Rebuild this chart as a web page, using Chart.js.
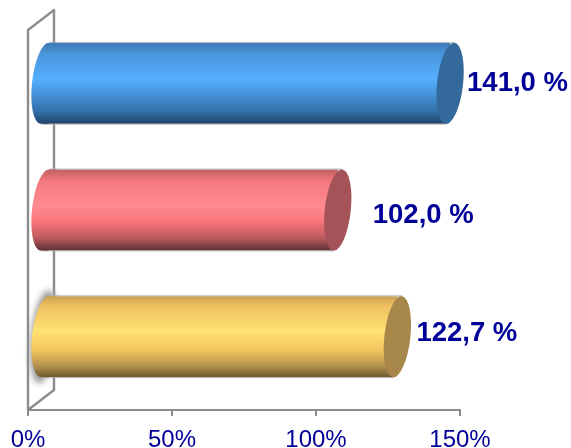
<!DOCTYPE html>
<html><head><meta charset="utf-8">
<style>html,body{margin:0;padding:0;background:#fff}canvas{display:block}</style>
<script src="https://cdn.jsdelivr.net/npm/chart.js@4"></script>
</head><body><canvas id="c" width="571" height="448"></canvas>
<script>
const categories = ['Serie 1', 'Serie 2', 'Serie 3'];
const values = [141.0, 102.0, 122.7];
const valueLabels = ['141,0 %', '102,0 %', '122,7 %'];
const tickValues = [0, 50, 100, 150];

const labelOffsetX = [33, 51, 35];
const labelOffsetY = [0, 5, -3];
const gradients = [
  [[0,'#3d7ab5'],[0.15,'#4a96dc'],[0.45,'#55b0ff'],[0.65,'#4590d5'],[0.85,'#336fa8'],[1,'#1f4468']],
  [[0,'#c06065'],[0.15,'#f4797e'],[0.45,'#ff8a90'],[0.65,'#f87478'],[0.85,'#b85a5e'],[1,'#5e3035']],
  [[0,'#c8a050'],[0.12,'#f0c060'],[0.43,'#ffe272'],[0.65,'#f5c860'],[0.85,'#b8954f'],[1,'#6e5a30']]
];
const capColors = ['#33699b', '#a55358', '#a8874a'];
const BAR_SHARE = 0.64;
const DX = 16, DY = -10, RX = 13, TILT = 0.11, WALL = '#8c8c8c';

function barBox(chart, i) {
  const b = chart.getDatasetMeta(0).data[i];
  const half = b.height / 2;
  return { y: b.y, ry: half / Math.cos(TILT), top: b.y - half, bottom: b.y + half, left: b.base, right: b.x };
}
function gradFor(ctx, top, bottom, i) {
  const g = ctx.createLinearGradient(0, top, 0, bottom);
  gradients[i].forEach(s => g.addColorStop(s[0], s[1]));
  return g;
}

const cylinder = {
  id: 'cylinder',
  beforeDatasetsDraw(chart) {
    const { ctx, chartArea: a } = chart;
    ctx.save();
    ctx.strokeStyle = WALL;
    ctx.lineWidth = 2.4;
    ctx.lineJoin = 'round';
    ctx.beginPath();
    ctx.moveTo(a.left, a.bottom);
    ctx.lineTo(a.left, a.top);
    ctx.lineTo(a.left + 26, a.top - 20);
    ctx.lineTo(a.left + 26, a.bottom - 20);
    ctx.lineTo(a.left, a.bottom);
    ctx.stroke();
    ctx.restore();
    // blurred smudge behind the base of the lowest cylinder
    const s = barBox(chart, 2);
    ctx.save();
    ctx.translate(DX, DY);
    ctx.filter = 'blur(3px)';
    ctx.fillStyle = '#9a9a9a';
    ctx.beginPath();
    ctx.ellipse(s.left - 1, s.y, RX, s.ry + 6, TILT, 0, Math.PI * 2);
    ctx.fill();
    ctx.restore();
    // pale rim along the top and bottom of every cylinder
    ctx.save();
    ctx.translate(DX, DY);
    ctx.fillStyle = 'rgba(185,185,185,0.8)';
    values.forEach((v, i) => {
      const b = barBox(chart, i);
      ctx.fillRect(b.left + 5, b.top - 1, b.right - b.left, 2);
      ctx.fillRect(b.left - 4, b.bottom - 1, b.right - b.left, 2);
    });
    ctx.restore();
  },
  beforeDatasetDraw(chart) {
    const { ctx } = chart;
    ctx.save();
    ctx.translate(DX, DY);
    ctx.beginPath();
    values.forEach((v, i) => {
      const b = barBox(chart, i);
      ctx.moveTo(b.left - b.ry * Math.sin(TILT), b.y + b.ry * Math.cos(TILT));
      ctx.ellipse(b.left, b.y, RX, b.ry, TILT, Math.PI / 2, Math.PI * 1.5);
      ctx.ellipse(b.right, b.y, RX, b.ry, TILT, -Math.PI / 2, Math.PI / 2);
      ctx.closePath();
    });
    ctx.clip();
  },
  afterDatasetDraw(chart) {
    const { ctx } = chart;
    ctx.restore();
    ctx.save();
    ctx.translate(DX, DY);
    values.forEach((v, i) => {
      const b = barBox(chart, i);
      const sx = b.ry * Math.sin(TILT), sy = b.ry * Math.cos(TILT);
      ctx.fillStyle = gradFor(ctx, b.top, b.bottom, i);
      ctx.beginPath();
      ctx.moveTo(b.left - sx, b.y + sy);
      ctx.ellipse(b.left, b.y, RX, b.ry, TILT, Math.PI / 2, Math.PI * 1.5);
      ctx.lineTo(b.left + sx + 8, b.y - sy);
      ctx.lineTo(b.left - sx + 8, b.y + sy);
      ctx.closePath();
      ctx.fill();
      ctx.fillStyle = capColors[i];
      ctx.beginPath();
      ctx.ellipse(b.right, b.y, RX, b.ry, TILT, 0, Math.PI * 2);
      ctx.fill();
    });
    ctx.restore();
  },
  afterDatasetsDraw(chart) {
    const { ctx } = chart;
    ctx.save();
    ctx.fillStyle = '#000099';
    ctx.font = 'bold 27.5px "Liberation Sans"';
    ctx.textBaseline = 'middle';
    ctx.textAlign = 'left';
    values.forEach((v, i) => {
      const b = barBox(chart, i);
      ctx.fillText(valueLabels[i], b.right + labelOffsetX[i], b.y + DY + labelOffsetY[i]);
    });
    ctx.restore();
  }
};

new Chart(document.getElementById('c'), {
  type: 'bar',
  data: {
    labels: categories,
    datasets: [{
      data: values,
      borderWidth: 0,
      categoryPercentage: 1,
      barPercentage: BAR_SHARE,
      backgroundColor(c) {
        const chart = c.chart, a = chart.chartArea, y = chart.scales.y;
        if (!a || !y) return capColors[c.dataIndex] || '#888';
        const mid = y.getPixelForValue(c.dataIndex);
        const half = (a.bottom - a.top) / categories.length * BAR_SHARE / 2;
        return gradFor(chart.ctx, mid - half, mid + half, c.dataIndex);
      }
    }]
  },
  plugins: [cylinder],
  options: {
    indexAxis: 'y',
    responsive: false,
    animation: false,
    layout: { padding: { left: 28, right: 111, top: 30, bottom: 0 } },
    plugins: { legend: { display: false }, tooltip: { enabled: false } },
    scales: {
      y: { display: false },
      x: {
        min: 0, max: 150,
        afterFit(s) { s.height = 38; },
        afterBuildTicks(s) { s.ticks = tickValues.map(v => ({ value: v })); },
        grid: { drawOnChartArea: false, color: WALL, lineWidth: 2, tickLength: 6 },
        border: { color: WALL, width: 2 },
        ticks: {
          color: '#000099', padding: 10, maxRotation: 0, autoSkip: false,
          font: { family: '"Liberation Sans"', size: 24 },
          callback: v => v + '%'
        }
      }
    }
  }
});
</script></body></html>
